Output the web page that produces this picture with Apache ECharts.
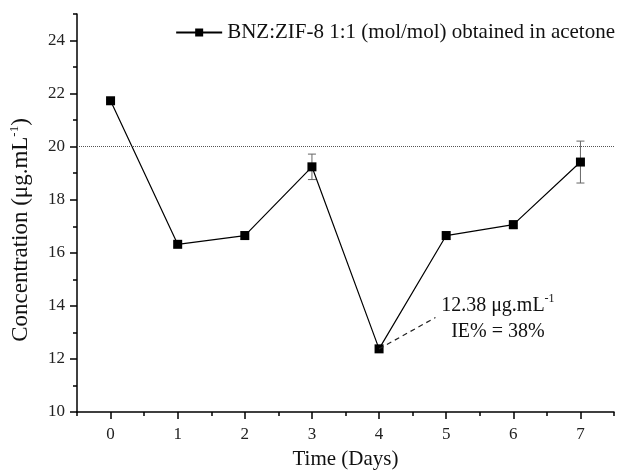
<!DOCTYPE html>
<html>
<head>
<meta charset="utf-8">
<script src="https://cdn.jsdelivr.net/npm/echarts@6/dist/echarts.min.js"></script>
<style>
    html, body { margin: 0; padding: 0; background: #fff; }
    #chart { width: 618px; height: 476px; }
</style>
</head>
<body>
<div id="chart"></div>
<script>
    // values
    var days = [0, 1, 2, 3, 4, 5, 6, 7];
    var conc = [21.73, 16.32, 16.65, 19.24, 12.38, 16.65, 17.06, 19.42];
    var errs = [0.05, 0.1, 0.15, 0.48, 0.05, 0.15, 0.15, 0.79];
    var xLabels = [0, 1, 2, 3, 4, 5, 6, 7];
    var yLabels = [10, 12, 14, 16, 18, 20, 22, 24];
    var refLine = 20;
    var seriesName = 'BNZ:ZIF-8 1:1 (mol/mol) obtained in acetone';
    // annotation for the minimum point
    var annotFrom = [4, 12.38];
    var annotTo = [4.84, 13.56];
    var annotText = [5.77, 13.52];

    var font = 'Liberation Serif';

    var lineData = days.map(function (d, i) { return [d, conc[i]]; });
    var errData = days.map(function (d, i) { return [d, conc[i], errs[i]]; });

    function renderErr(params, api) {
        var x = api.value(0), y = api.value(1), e = api.value(2);
        var hi = api.coord([x, y + e]);
        var lo = api.coord([x, y - e]);
        var w = 4;
        var st = { stroke: '#666', lineWidth: 1 };
        return {
            type: 'group',
            children: [
                { type: 'line', shape: { x1: hi[0], y1: hi[1], x2: lo[0], y2: lo[1] }, style: st },
                { type: 'line', shape: { x1: hi[0] - w, y1: hi[1], x2: hi[0] + w, y2: hi[1] }, style: st },
                { type: 'line', shape: { x1: lo[0] - w, y1: lo[1], x2: lo[0] + w, y2: lo[1] }, style: st }
            ]
        };
    }

    var axisLine = { show: true, onZero: false, lineStyle: { color: '#000', width: 1.5 } };
    var tickStyle = { color: '#000', width: 1.5 };

    var option = {
        backgroundColor: '#fff',
        animation: false,
        textStyle: { fontFamily: font },
        grid: { left: 76, right: 4, top: 14, bottom: 64, containLabel: false },
        legend: {
            data: [seriesName],
            right: 3,
            top: 22,
            padding: 0,
            itemWidth: 46,
            itemHeight: 10,
            itemGap: 6,
            textStyle: { fontFamily: font, fontSize: 21, color: '#111', lineHeight: 21 }
        },
        xAxis: [
            {
                type: 'value',
                min: -0.5,
                max: 7.5,
                interval: 0.5,
                name: 'Time (Days)',
                nameLocation: 'middle',
                nameGap: 37,
                nameTextStyle: { fontFamily: font, fontSize: 21, color: '#111' },
                axisLine: axisLine,
                axisTick: { show: true, length: 4, lineStyle: tickStyle },
                axisLabel: {
                    fontFamily: font, fontSize: 17, color: '#222', margin: 14,
                    formatter: function (v) { return xLabels.indexOf(v) >= 0 ? String(v) : ''; }
                },
                splitLine: { show: false }
            },
            {
                type: 'value',
                min: -0.5,
                max: 7.5,
                position: 'bottom',
                axisLine: { show: false, onZero: false },
                axisTick: { show: true, length: 7, customValues: xLabels, lineStyle: tickStyle },
                axisLabel: { show: false },
                splitLine: { show: false }
            }
        ],
        yAxis: [
            {
                type: 'value',
                min: 10,
                max: 25,
                interval: 1,
                name: 'Concentration (μg.mL{sup|-1})',
                nameLocation: 'middle',
                nameGap: 44,
                nameTextStyle: {
                    fontFamily: font, fontSize: 23, color: '#111',
                    padding: [0, 34, 0, 0],
                    rich: { sup: { fontFamily: font, fontSize: 13, verticalAlign: 'top', padding: [0, 0, 12, 0], color: '#111' } }
                },
                axisLine: axisLine,
                axisTick: { show: true, length: 4, lineStyle: tickStyle },
                axisLabel: {
                    fontFamily: font, fontSize: 17, color: '#222', margin: 12,
                    formatter: function (v) { return yLabels.indexOf(v) >= 0 ? String(v) : ''; }
                },
                splitLine: { show: false }
            },
            {
                type: 'value',
                min: 10,
                max: 25,
                position: 'left',
                axisLine: { show: false, onZero: false },
                axisTick: { show: true, length: 7, customValues: yLabels, lineStyle: tickStyle },
                axisLabel: { show: false },
                splitLine: { show: false }
            }
        ],
        series: [
            {
                type: 'custom',
                xAxisIndex: 0,
                yAxisIndex: 0,
                renderItem: renderErr,
                data: errData,
                z: 1,
                silent: true
            },
            {
                name: seriesName,
                type: 'line',
                xAxisIndex: 0,
                yAxisIndex: 0,
                data: lineData,
                symbol: 'rect',
                symbolSize: 9,
                color: '#000',
                lineStyle: { color: '#000', width: 1.2 },
                itemStyle: { color: '#000' },
                z: 3,
                markLine: {
                    silent: true,
                    symbol: ['none', 'none'],
                    label: { show: false },
                    data: [
                        { yAxis: refLine, lineStyle: { type: 'dotted', color: '#555', width: 1 } },
                        [
                            { coord: annotFrom, lineStyle: { type: [5, 4], color: '#222', width: 1.2 } },
                            { coord: annotTo }
                        ]
                    ]
                },
                markPoint: {
                    silent: true,
                    symbol: 'circle',
                    symbolSize: 0,
                    data: [{
                        coord: annotText,
                        label: {
                            show: true,
                            position: 'inside',
                            align: 'center',
                            verticalAlign: 'middle',
                            formatter: '{a|12.38 μg.mL}{s|-1}\n{a|IE% = 38%}',
                            rich: {
                                a: { fontFamily: font, fontSize: 20, color: '#111', lineHeight: 26 },
                                s: { fontFamily: font, fontSize: 12, color: '#111', verticalAlign: 'top', padding: [0, 0, 12, 0] }
                            }
                        }
                    }]
                }
            }
        ]
    };

    var chart = echarts.init(document.getElementById('chart'));
    chart.setOption(option);
</script>
</body>
</html>
